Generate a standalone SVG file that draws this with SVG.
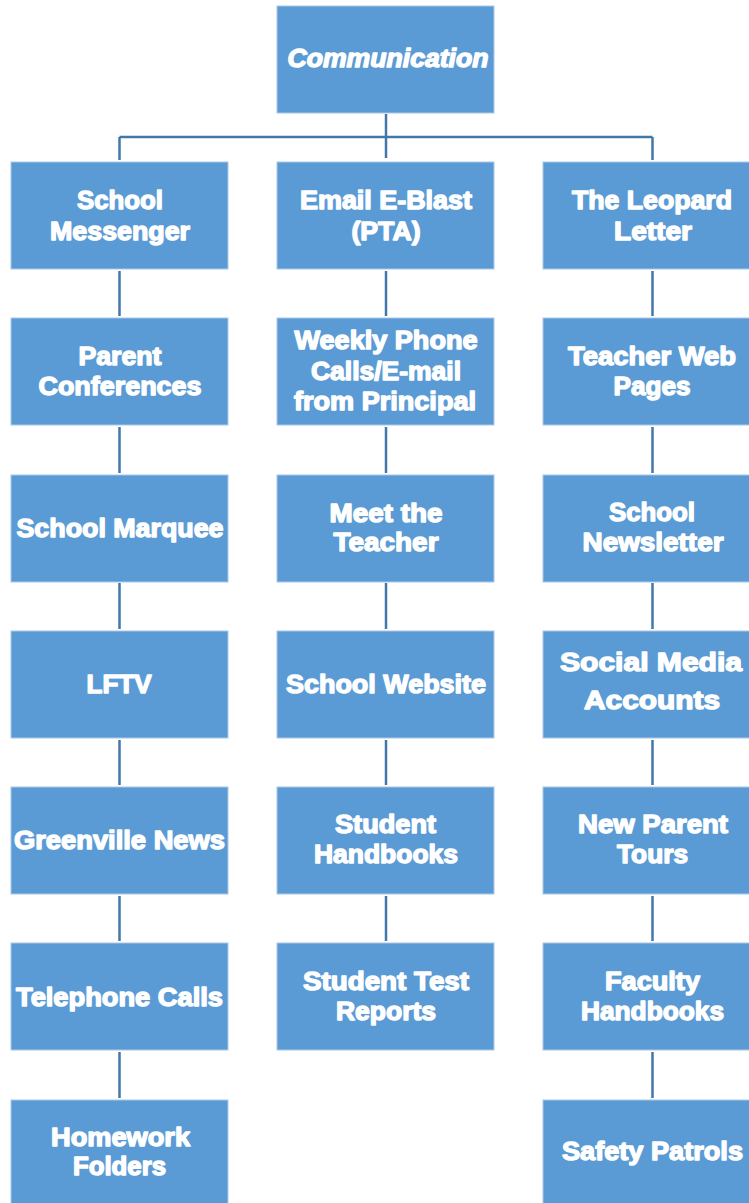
<svg xmlns="http://www.w3.org/2000/svg" width="749" height="1203" viewBox="0 0 749 1203">
<style>
.box{fill:#5B9BD5;stroke:#A9C8EA;stroke-width:1}
.t{font-family:"Liberation Sans",Arial,sans-serif;font-weight:bold;font-size:26px;fill:#fff;stroke:#fff;stroke-width:1.4;stroke-linejoin:round;text-anchor:middle}
.conn{stroke:#4377AA;stroke-width:2.5;fill:none}
</style>
<rect width="749" height="1203" fill="#fff"/>
<g id="connectors">
<path class="conn" d="M386,114 V158 M119.5,137 H652.5 M119.5,137 V160 M652.5,137 V160"/>
<path class="conn" d="M119.5,271 V316 M119.5,427 V473 M119.5,583 V629 M119.5,740 V785 M119.5,896 V941 M119.5,1052 V1098"/>
<path class="conn" d="M386,271 V316 M386,427 V473 M386,583 V629 M386,740 V785 M386,896 V941"/>
<path class="conn" d="M652.5,271 V316 M652.5,427 V473 M652.5,583 V629 M652.5,740 V785 M652.5,896 V941 M652.5,1052 V1098"/>
</g>
<g id="n-communication"><rect class="box" x="277" y="6" width="217" height="107"/><text class="t" x="388" y="67" font-style="italic" textLength="201" lengthAdjust="spacingAndGlyphs">Communication</text></g>
<g id="n-school-messenger"><rect class="box" x="11" y="162" width="217" height="107"/><text class="t" x="120" y="209" textLength="86" lengthAdjust="spacingAndGlyphs">School</text><text class="t" x="120" y="240" textLength="140" lengthAdjust="spacingAndGlyphs">Messenger</text></g>
<g id="n-email"><rect class="box" x="277" y="162" width="217" height="107"/><text class="t" x="386" y="209" textLength="172" lengthAdjust="spacingAndGlyphs">Email E-Blast</text><text class="t" x="386" y="240" textLength="69" lengthAdjust="spacingAndGlyphs">(PTA)</text></g>
<g id="n-leopard"><rect class="box" x="543" y="162" width="217" height="107"/><text class="t" x="652" y="209" textLength="160" lengthAdjust="spacingAndGlyphs">The Leopard</text><text class="t" x="653" y="240" textLength="78" lengthAdjust="spacingAndGlyphs">Letter</text></g>
<g id="n-parent-conf"><rect class="box" x="11" y="318" width="217" height="107"/><text class="t" x="120" y="365" textLength="83" lengthAdjust="spacingAndGlyphs">Parent</text><text class="t" x="120" y="395" textLength="163" lengthAdjust="spacingAndGlyphs">Conferences</text></g>
<g id="n-weekly"><rect class="box" x="277" y="318" width="217" height="107"/><text class="t" x="386" y="349" textLength="183" lengthAdjust="spacingAndGlyphs">Weekly Phone</text><text class="t" x="386" y="380" textLength="150" lengthAdjust="spacingAndGlyphs">Calls/E-mail</text><text class="t" x="385" y="410" textLength="182" lengthAdjust="spacingAndGlyphs">from Principal</text></g>
<g id="n-teacher-web"><rect class="box" x="543" y="318" width="217" height="107"/><text class="t" x="652" y="365" textLength="168" lengthAdjust="spacingAndGlyphs">Teacher Web</text><text class="t" x="652" y="395" textLength="77" lengthAdjust="spacingAndGlyphs">Pages</text></g>
<g id="n-marquee"><rect class="box" x="11" y="475" width="217" height="107"/><text class="t" x="120" y="537" textLength="207" lengthAdjust="spacingAndGlyphs">School Marquee</text></g>
<g id="n-meet"><rect class="box" x="277" y="475" width="217" height="107"/><text class="t" x="386" y="522" textLength="113" lengthAdjust="spacingAndGlyphs">Meet the</text><text class="t" x="386" y="551" textLength="105" lengthAdjust="spacingAndGlyphs">Teacher</text></g>
<g id="n-newsletter"><rect class="box" x="543" y="475" width="217" height="107"/><text class="t" x="652" y="521" textLength="86" lengthAdjust="spacingAndGlyphs">School</text><text class="t" x="653" y="551" textLength="141" lengthAdjust="spacingAndGlyphs">Newsletter</text></g>
<g id="n-lftv"><rect class="box" x="11" y="631" width="217" height="107"/><text class="t" x="119" y="693" textLength="65" lengthAdjust="spacingAndGlyphs">LFTV</text></g>
<g id="n-website"><rect class="box" x="277" y="631" width="217" height="107"/><text class="t" x="386" y="693" textLength="200" lengthAdjust="spacingAndGlyphs">School Website</text></g>
<g id="n-social"><rect class="box" x="543" y="631" width="217" height="107"/><text class="t" x="651" y="671" font-size="28" textLength="182" lengthAdjust="spacingAndGlyphs">Social Media</text><text class="t" x="652" y="709" font-size="28" textLength="136" lengthAdjust="spacingAndGlyphs">Accounts</text></g>
<g id="n-greenville"><rect class="box" x="11" y="787" width="217" height="107"/><text class="t" x="119.5" y="849" textLength="211" lengthAdjust="spacingAndGlyphs">Greenville News</text></g>
<g id="n-student-hb"><rect class="box" x="277" y="787" width="217" height="107"/><text class="t" x="385.5" y="833" textLength="101" lengthAdjust="spacingAndGlyphs">Student</text><text class="t" x="386" y="863" textLength="144" lengthAdjust="spacingAndGlyphs">Handbooks</text></g>
<g id="n-new-parent"><rect class="box" x="543" y="787" width="217" height="107"/><text class="t" x="653" y="833" textLength="150" lengthAdjust="spacingAndGlyphs">New Parent</text><text class="t" x="652.5" y="863" textLength="71" lengthAdjust="spacingAndGlyphs">Tours</text></g>
<g id="n-telephone"><rect class="box" x="11" y="943" width="217" height="107"/><text class="t" x="119.5" y="1006" textLength="207" lengthAdjust="spacingAndGlyphs">Telephone Calls</text></g>
<g id="n-test-reports"><rect class="box" x="277" y="943" width="217" height="107"/><text class="t" x="386" y="990" textLength="166" lengthAdjust="spacingAndGlyphs">Student Test</text><text class="t" x="386" y="1020" textLength="100" lengthAdjust="spacingAndGlyphs">Reports</text></g>
<g id="n-faculty"><rect class="box" x="543" y="943" width="217" height="107"/><text class="t" x="652.5" y="990" textLength="95" lengthAdjust="spacingAndGlyphs">Faculty</text><text class="t" x="652.5" y="1020" textLength="143" lengthAdjust="spacingAndGlyphs">Handbooks</text></g>
<g id="n-homework"><rect class="box" x="11" y="1100" width="217" height="107"/><text class="t" x="120.5" y="1146" textLength="139" lengthAdjust="spacingAndGlyphs">Homework</text><text class="t" x="119.5" y="1175" textLength="93" lengthAdjust="spacingAndGlyphs">Folders</text></g>
<g id="n-safety"><rect class="box" x="543" y="1100" width="217" height="107"/><text class="t" x="652.5" y="1160" textLength="181" lengthAdjust="spacingAndGlyphs">Safety Patrols</text></g>
</svg>
